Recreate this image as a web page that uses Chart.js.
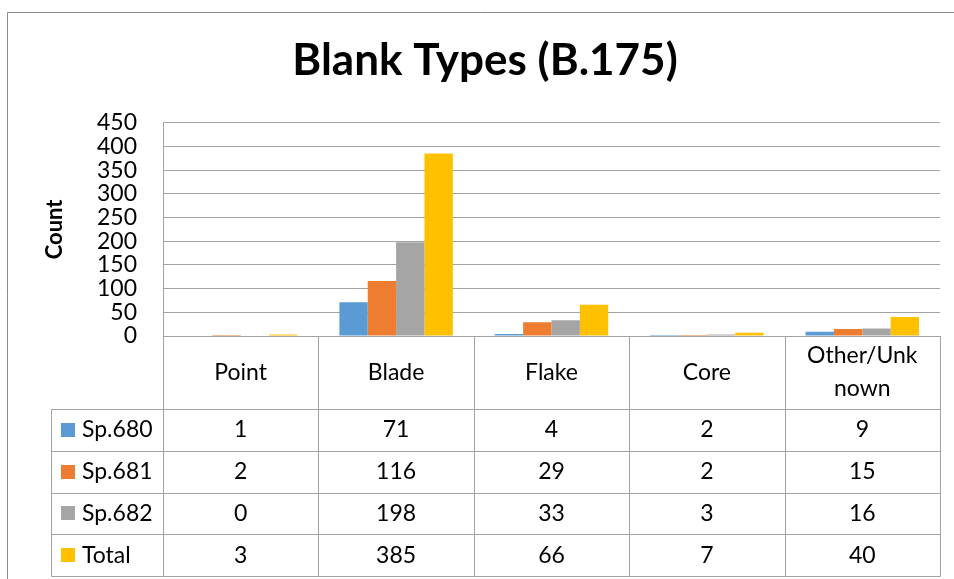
<!DOCTYPE html>
<html>
<head>
<meta charset="utf-8">
<script src="https://cdn.jsdelivr.net/npm/chart.js@4/dist/chart.umd.min.js"></script>
<style>
    html, body { margin: 0; padding: 0; background: #fff; }
    #wrap { width: 954px; height: 579px; position: relative; }
</style>
</head>
<body>
<div id="wrap"><canvas id="chart"></canvas></div>
<script>
const categories = ['Point', 'Blade', 'Flake', 'Core', ['Other/Unk', 'nown']];
const seriesNames = ['Sp.680', 'Sp.681', 'Sp.682', 'Total'];
const sp680 = [1, 71, 4, 2, 9];
const sp681 = [2, 116, 29, 2, 15];
const sp682 = [0, 198, 33, 3, 16];
const total = [3, 385, 66, 7, 40];
const seriesColors = ['#5B9BD5', '#ED7D31', '#A5A5A5', '#FFC000'];
const yMax = 450;
const yStep = 50;

const series = [sp680, sp681, sp682, total];
const fontFamily = 'Lato, "Open Sans", sans-serif';
const lineColor = '#a3a3a3';

// draws the Excel style data table under the plot
const dataTable = {
    id: 'dataTable',
    beforeDraw(chart) {
        const { ctx, width, height } = chart;
        ctx.save();
        ctx.fillStyle = '#fff';
        ctx.fillRect(0, 0, width, height);
        ctx.strokeStyle = '#8a8a8a';
        ctx.lineWidth = 1;
        ctx.beginPath();
        ctx.moveTo(7.5, height);
        ctx.lineTo(7.5, 12.5);
        ctx.lineTo(width, 12.5);
        ctx.stroke();
        ctx.restore();
    },
    afterDraw(chart) {
        const { ctx, chartArea } = chart;
        const x = chart.scales.x;
        const catW = (chartArea.right - chartArea.left) / categories.length;
        const top = Math.round(chartArea.bottom);
        const headH = 73;
        const rowH = 41.75;
        const legL = 51;
        const headBottom = top + headH;
        const bottom = headBottom + rowH * series.length;
        const edges = categories.map((c, i) => x.getPixelForValue(i) - catW / 2);
        edges.push(chartArea.right);
        const px = (v) => Math.round(v) + 0.5;

        ctx.save();
        ctx.strokeStyle = lineColor;
        ctx.lineWidth = 1;
        ctx.beginPath();
        edges.forEach((ex) => {
            ctx.moveTo(px(ex), top);
            ctx.lineTo(px(ex), px(bottom));
        });
        ctx.moveTo(px(legL), px(headBottom));
        ctx.lineTo(px(legL), px(bottom));
        for (let r = 0; r <= series.length; r++) {
            const y = px(headBottom + r * rowH);
            ctx.moveTo(px(legL), y);
            ctx.lineTo(px(chartArea.right), y);
        }
        ctx.stroke();

        ctx.fillStyle = '#000';
        ctx.font = `23px ${fontFamily}`;
        ctx.textAlign = 'center';
        ctx.textBaseline = 'middle';
        categories.forEach((label, i) => {
            const cx = x.getPixelForValue(i);
            const lines = Array.isArray(label) ? label : [label];
            const lh = 33;
            const y0 = top + headH / 2 - (lines.length - 1) * lh / 2;
            lines.forEach((ln, k) => ctx.fillText(ln, cx, y0 + k * lh));
        });

        series.forEach((vals, r) => {
            const cy = headBottom + r * rowH + rowH / 2;
            ctx.fillStyle = seriesColors[r];
            ctx.fillRect(61, Math.round(cy - 7), 14, 14);
            ctx.fillStyle = '#000';
            ctx.textAlign = 'left';
            ctx.fillText(seriesNames[r], 82, cy);
            ctx.textAlign = 'center';
            vals.forEach((v, i) => ctx.fillText(String(v), x.getPixelForValue(i), cy));
        });
        ctx.restore();
    }
};

new Chart(document.getElementById('chart'), {
    type: 'bar',
    data: {
        labels: categories,
        datasets: series.map((vals, i) => ({
            label: seriesNames[i],
            data: vals,
            backgroundColor: seriesColors[i],
            borderWidth: 0,
            categoryPercentage: 0.73,
            barPercentage: 1.0
        }))
    },
    options: {
        responsive: true,
        maintainAspectRatio: false,
        animation: false,
        layout: { padding: { top: 12, left: 30, right: 14, bottom: 243 } },
        plugins: {
            legend: { display: false },
            tooltip: { enabled: false },
            title: {
                display: true,
                text: 'Blank Types (B.175)',
                color: '#000',
                font: { family: fontFamily, size: 44, weight: 'bold' },
                padding: { top: 22, bottom: 36 }
            }
        },
        scales: {
            x: { display: false },
            y: {
                min: 0,
                max: yMax,
                afterFit(scale) { scale.width = 133; },
                ticks: {
                    stepSize: yStep,
                    autoSkip: false,
                    color: '#000',
                    padding: 26,
                    font: { family: fontFamily, size: 23, lineHeight: 1 }
                },
                grid: { color: lineColor, drawTicks: false },
                border: { display: true, color: lineColor },
                title: {
                    display: true,
                    text: 'Count',
                    color: '#000',
                    font: { family: fontFamily, size: 22, weight: 'bold' },
                    padding: { top: 12, bottom: 0 }
                }
            }
        }
    },
    plugins: [dataTable]
});
</script>
</body>
</html>
